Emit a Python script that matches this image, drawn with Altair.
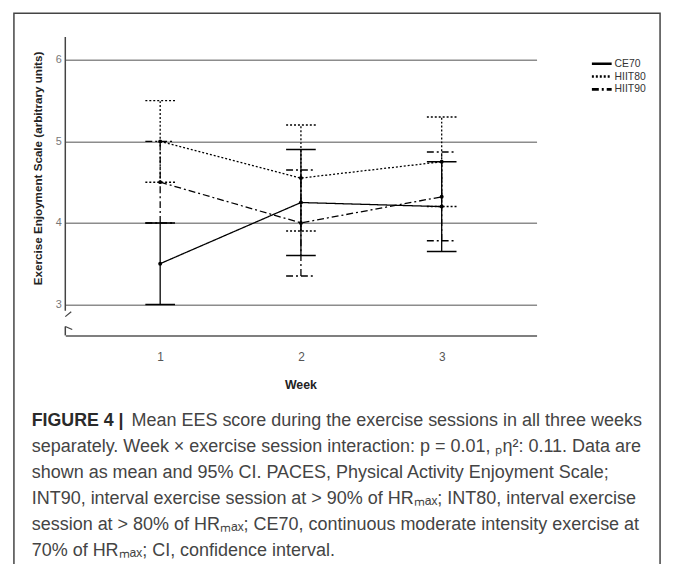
import altair as alt
import pandas as pd

# ---------------- data ----------------
weeks = [1, 2, 3]
series = ["CE70", "HIIT80", "HIIT90"]
ce70_mean = [3.5, 4.25, 4.2]
ce70_lo = [3.0, 3.6, 3.65]
ce70_hi = [4.0, 4.9, 4.75]
hiit80_mean = [5.0, 4.55, 4.75]
hiit80_lo = [4.5, 3.9, 4.2]
hiit80_hi = [5.5, 5.2, 5.3]
hiit90_mean = [4.5, 4.0, 4.32]
hiit90_lo = [4.0, 3.35, 3.78]
hiit90_hi = [5.0, 4.65, 4.87]
y_ticks = [3, 4, 5, 6]
x_title = "Week"
y_title = "Exercise Enjoyment Scale (arbitrary units)"
caption_head = "FIGURE 4 |"
caption_lines = [
    "Mean EES score during the exercise sessions in all three weeks",
    "separately. Week \u00d7 exercise session interaction: p = 0.01, \u209a\u03b7\u00b2: 0.11. Data are",
    "shown as mean and 95% CI. PACES, Physical Activity Enjoyment Scale;",
    "INT90, interval exercise session at > 90% of HR\u2098\u2090\u2093; INT80, interval exercise",
    "session at > 80% of HR\u2098\u2090\u2093; CE70, continuous moderate intensity exercise at",
    "70% of HR\u2098\u2090\u2093; CI, confidence interval.",
]

means = [ce70_mean, hiit80_mean, hiit90_mean]
los = [ce70_lo, hiit80_lo, hiit90_lo]
his = [ce70_hi, hiit80_hi, hiit90_hi]
rows = []
for s, m, lo, hi in zip(series, means, los, his):
    for w, a, b, c in zip(weeks, m, lo, hi):
        rows.append({"series": s, "week": w, "mean": a, "lo": b, "hi": c})
df = pd.DataFrame(rows)

dashes = [[1, 0], [2, 2], [7, 3, 2, 3]]
dash_scale = alt.Scale(domain=series, range=dashes)
xscale = alt.Scale(domain=[0.326, 3.674], nice=False, zero=False)
yscale = alt.Scale(domain=[2.62, 6.28], nice=False, zero=False)

base = alt.Chart(df)
X = alt.X("week:Q", scale=xscale, axis=alt.Axis(
    values=weeks, format="d", grid=False, domain=True, domainColor="#555555",
    domainWidth=1.5, ticks=False, labelPadding=16, labelFontSize=12,
    labelColor="#555555", labelFont="Liberation Sans", title=None))
Y = alt.Y("mean:Q", scale=yscale, axis=alt.Axis(
    values=y_ticks, format="d", grid=True, gridColor="#8c8c8c", gridWidth=1.5, domain=False,
    ticks=False, labelPadding=4, labelFontSize=11, labelColor="#777777",
    labelFont="Liberation Sans", title=None))
dash = alt.StrokeDash("series:N", scale=dash_scale, legend=None)

lines = base.mark_line(color="black", strokeWidth=1.3).encode(x=X, y=Y, strokeDash=dash)
bars = base.mark_rule(color="black", strokeWidth=1.3).encode(
    x=alt.X("week:Q", scale=xscale), y=alt.Y("lo:Q", scale=yscale), y2="hi:Q", strokeDash=dash)
cap_lo = base.mark_rule(color="black", strokeWidth=1.5, xOffset=-15, x2Offset=15).encode(
    x=alt.X("week:Q", scale=xscale), x2="week:Q", y=alt.Y("lo:Q", scale=yscale), strokeDash=dash)
cap_hi = base.mark_rule(color="black", strokeWidth=1.5, xOffset=-15, x2Offset=15).encode(
    x=alt.X("week:Q", scale=xscale), x2="week:Q", y=alt.Y("hi:Q", scale=yscale), strokeDash=dash)
pts = base.mark_circle(color="black", size=16, opacity=1).encode(
    x=alt.X("week:Q", scale=xscale), y=alt.Y("mean:Q", scale=yscale))

one = alt.Chart(pd.DataFrame({"k": [0]}))
ax_col = "#444444"
yaxis_top = one.mark_rule(color=ax_col, strokeWidth=1.5).encode(
    x=alt.value(0), y=alt.value(0), y2=alt.value(277))
slash1 = one.mark_rule(color=ax_col, strokeWidth=1.3).encode(
    x=alt.value(0), x2=alt.value(6), y=alt.value(283), y2=alt.value(278))
slash2 = one.mark_rule(color=ax_col, strokeWidth=1.3).encode(
    x=alt.value(0), x2=alt.value(7), y=alt.value(293), y2=alt.value(296))
yaxis_bot = one.mark_rule(color=ax_col, strokeWidth=1.5).encode(
    x=alt.value(0), y=alt.value(293), y2=alt.value(302))
border = one.mark_rect(fillOpacity=0, stroke="#444444", strokeWidth=1.5).encode(
    x=alt.value(-52), x2=alt.value(602), y=alt.value(-24), y2=alt.value(600))

xt = one.mark_text(text=x_title, font="Liberation Sans", fontWeight="bold", fontSize=12.5,
                   color="#222222", align="center", baseline="middle").encode(
    x=alt.value(238.5), y=alt.value(352))
yt = one.mark_text(text=y_title, font="Liberation Sans", fontWeight="bold", fontSize=11.8,
                   color="#222222", align="center", baseline="middle", angle=270).encode(
    x=alt.value(-28), y=alt.value(133))

# legend
leg_df = pd.DataFrame({"series": series, "i": [0, 1, 2]})
leg = alt.Chart(leg_df).transform_calculate(py="27 + datum.i * 13")
leg_lines = leg.mark_rule(color="black", strokeWidth=2.6).encode(
    x=alt.value(533), x2=alt.value(553), y=alt.Y("py:Q", scale=None),
    strokeDash=alt.StrokeDash("series:N", scale=alt.Scale(domain=series, range=[[1, 0], [2, 1.5], [5, 2, 5, 3, 2, 0]]), legend=None))
leg_text = leg.mark_text(font="Liberation Sans", fontSize=10.5, color="#333333",
                         align="left", baseline="middle").encode(
    x=alt.value(556), y=alt.Y("py:Q", scale=None), text="series:N")

# caption
cap_df = pd.DataFrame({"t": caption_lines, "i": list(range(len(caption_lines)))})
cap = alt.Chart(cap_df).transform_calculate(
    py="389 + datum.i * 26.2", px="datum.i == 0 ? 67 : -34")
cap_text = cap.mark_text(font="Liberation Sans", fontSize=18.2, color="#444444",
                         align="left", baseline="middle").encode(
    x=alt.X("px:Q", scale=None), y=alt.Y("py:Q", scale=None), text="t:N")
cap_head = one.mark_text(text=caption_head, font="Liberation Sans", fontWeight="bold", fontSize=18,
                         color="#2a2a2a", align="left", baseline="middle").encode(
    x=alt.value(-34), y=alt.value(389))

chart = alt.layer(
    lines, bars, cap_lo, cap_hi, pts,
    yaxis_top, slash1, slash2, yaxis_bot, border,
    xt, yt, leg_lines, leg_text, cap_text, cap_head,
).properties(
    width=477, height=302,
    padding={"left": 58, "top": 26, "right": 130, "bottom": 228},
    autosize=alt.AutoSizeParams(type="none"),
    background="white",
).configure_view(stroke=None)

chart.save("out.html", embed_options={"renderer": "svg", "actions": False})
